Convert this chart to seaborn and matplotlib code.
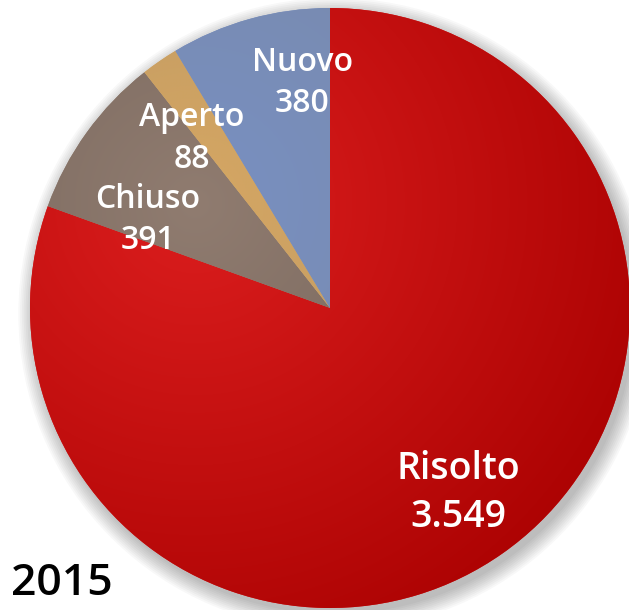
import numpy as np
import matplotlib.pyplot as plt
import seaborn as sns
from matplotlib.patches import Circle
from matplotlib.colors import to_rgb

# data
categories = ['Risolto', 'Chiuso', 'Aperto', 'Nuovo']
counts = [3549, 391, 88, 380]
year = '2015'

# colours (light -> dark for the glossy gradient)
light_colors = ['#dc1e1e', '#907c70', '#d6a763', '#7890c2']
dark_colors = ['#a80000', '#695950', '#ae9063', '#7a86a0']
# label anchors in pie units (centre = 0,0, radius = 1)
label_xy = [(0.427, -0.617), (-0.607, 0.292), (-0.46, 0.565), (-0.093, 0.75)]
label_size = [27, 23, 23, 23]

sns.set_style('white')
plt.rcParams['font.family'] = ['Open Sans', 'DejaVu Sans']

fig = plt.figure(figsize=(6.29, 6.10), dpi=100)
ax = fig.add_axes([0, 0, 1, 1])

# soft shadow
for i in range(10):
    ax.add_patch(Circle((0.015, -0.02), 1.0 + 0.006 * i, color='black',
                        alpha=0.028, lw=0, zorder=0))

wedges, _ = ax.pie(counts, startangle=90, counterclock=False, radius=1.0,
                   colors=light_colors, wedgeprops=dict(linewidth=0))

# gradient fill clipped to each wedge
gx, gy = np.meshgrid(np.linspace(-1, 1, 400), np.linspace(1, -1, 400))
dist = np.sqrt((gx + 0.45) ** 2 + (gy - 0.35) ** 2)
t = np.clip(dist / 1.75, 0, 1)[..., None]
for w, lc, dc in zip(wedges, light_colors, dark_colors):
    img = (1 - t) * np.array(to_rgb(lc)) + t * np.array(to_rgb(dc))
    im = ax.imshow(img, extent=(-1, 1, -1, 1), zorder=2, interpolation='bilinear')
    im.set_clip_path(w)
    w.set_zorder(1)

for name, val, (x, y), fs in zip(categories, counts, label_xy, label_size):
    txt = f'{val:,}'.replace(',', '.')
    ax.text(x, y, f'{name}\n{txt}', ha='center', va='center', color='white',
            fontsize=fs, fontweight='semibold', linespacing=1.32, zorder=5)

ax.set_xlim(-330 / 300, 299 / 300)
ax.set_ylim(-302 / 300, 308 / 300)
ax.set_aspect('equal')
ax.axis('off')

ax.text(11 / 629, 0.043, year, transform=ax.transAxes, fontsize=32,
        fontweight='semibold', color='black', ha='left', va='center')

fig.savefig('out.png', dpi=100)
